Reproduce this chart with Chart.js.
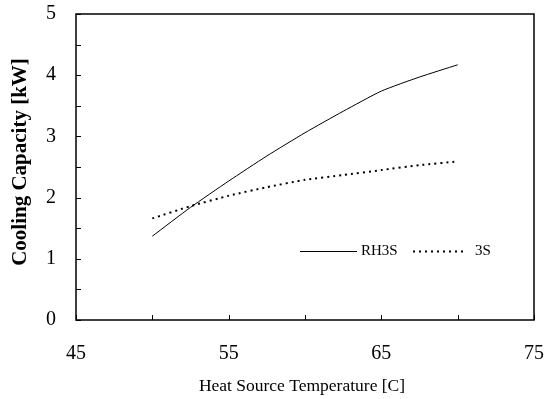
<!DOCTYPE html>
<html>
<head>
<meta charset="utf-8">
<script src="https://cdn.jsdelivr.net/npm/chart.js@4"></script>
<style>
  html, body { margin: 0; padding: 0; background: #fff; }
  #wrap { width: 545px; height: 399px; }
</style>
</head>
<body>
<div id="wrap"><canvas id="chart" width="545" height="399"></canvas></div>
<script>
// --- DATA ---
const temps = [50, 52.5, 55, 57.5, 60, 62.5, 65, 67.5, 70];
const rh3s = [1.37, 1.84, 2.27, 2.68, 3.06, 3.41, 3.74, 3.97, 4.17];
const s3 = [1.66, 1.86, 2.03, 2.17, 2.29, 2.37, 2.45, 2.53, 2.59];
const xLabels = [45, 55, 65, 75];
const yLabels = [0, 1, 2, 3, 4, 5];

const serif = '"Liberation Serif", "Times New Roman", serif';

// no extra room for tick labels: plot box is fixed
function noPad(s) {
    s.paddingTop = 0; s.paddingBottom = 0; s.paddingLeft = 0; s.paddingRight = 0;
}

// frame, inward ticks, titles and legend
const decor = {
    id: 'decor',
    afterDraw(chart) {
        const ctx = chart.ctx;
        const a = chart.chartArea;
        const xs = chart.scales.x, ys = chart.scales.y;
        ctx.save();
        ctx.strokeStyle = '#000';
        ctx.lineWidth = 1.5;
        ctx.strokeRect(a.left, a.top, a.right - a.left, a.bottom - a.top);

        ctx.lineWidth = 1;
        ctx.beginPath();
        for (let v = 45; v <= 75; v += 5) {
            const px = Math.round(xs.getPixelForValue(v)) + 0.5;
            ctx.moveTo(px, a.bottom);
            ctx.lineTo(px, a.bottom - 5);
        }
        for (let v = 0; v <= 5; v += 0.5) {
            const py = Math.round(ys.getPixelForValue(v)) + 0.5;
            ctx.moveTo(a.left, py);
            ctx.lineTo(a.left + 5, py);
        }
        ctx.stroke();

        // axis titles
        ctx.fillStyle = '#000';
        ctx.textAlign = 'center';
        ctx.textBaseline = 'middle';
        ctx.font = '17.5px ' + serif;
        ctx.fillText('Heat Source Temperature [C]', 302, 386);
        ctx.save();
        ctx.translate(21, 162);
        ctx.rotate(-Math.PI / 2);
        ctx.font = 'bold 21px ' + serif;
        ctx.fillText('Cooling Capacity [kW]', 0, 0);
        ctx.restore();

        // legend
        const ly = 251.5;
        ctx.lineWidth = 1;
        ctx.beginPath();
        ctx.moveTo(300, ly);
        ctx.lineTo(357, ly);
        ctx.stroke();
        ctx.lineWidth = 2;
        ctx.setLineDash([2, 4]);
        ctx.beginPath();
        ctx.moveTo(413, ly);
        ctx.lineTo(464, ly);
        ctx.stroke();
        ctx.setLineDash([]);
        ctx.textAlign = 'left';
        ctx.font = '15px ' + serif;
        ctx.fillText('RH3S', 361, ly);
        ctx.fillText('3S', 475, ly);
        ctx.restore();
    }
};

new Chart(document.getElementById('chart'), {
    type: 'line',
    data: {
        datasets: [
            { label: 'RH3S', data: temps.map((t, i) => ({ x: t, y: rh3s[i] })),
              borderColor: '#000', borderWidth: 1, pointRadius: 0, tension: 0.2, fill: false },
            { label: '3S', data: temps.map((t, i) => ({ x: t, y: s3[i] })),
              borderColor: '#000', borderWidth: 2, borderDash: [2, 4], pointRadius: 0, tension: 0.2, fill: false }
        ]
    },
    options: {
        responsive: false,
        animation: false,
        layout: { padding: { top: 14, right: 11, left: 0, bottom: 0 } },
        plugins: { legend: { display: false }, tooltip: { enabled: false } },
        scales: {
            x: {
                type: 'linear', min: 45, max: 75,
                afterFit: s => { s.height = 79; noPad(s); },
                grid: { display: false, drawTicks: false, tickLength: 0 },
                border: { display: false },
                ticks: {
                    stepSize: 10, padding: 22, maxRotation: 0, color: '#000',
                    font: { family: serif, size: 20 },
                    callback: v => xLabels.includes(v) ? String(v) : ''
                }
            },
            y: {
                min: 0, max: 5,
                afterFit: s => { s.width = 76; noPad(s); },
                grid: { display: false, drawTicks: false, tickLength: 0 },
                border: { display: false },
                ticks: {
                    stepSize: 1, padding: 20, color: '#000',
                    font: { family: serif, size: 20 },
                    callback: v => yLabels.includes(v) ? String(v) : ''
                }
            }
        }
    },
    plugins: [decor]
});
</script>
</body>
</html>
